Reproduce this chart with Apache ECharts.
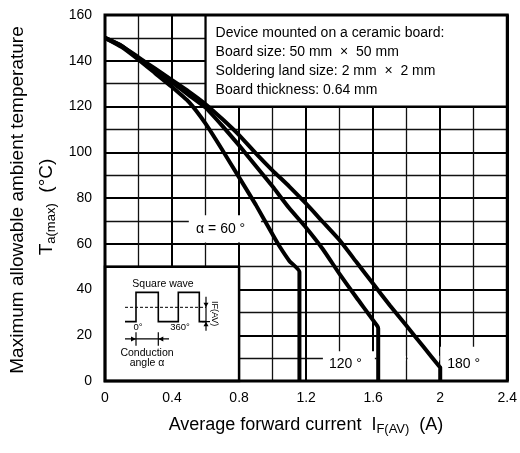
<!DOCTYPE html>
<html><head><meta charset="utf-8">
<script src="https://cdn.jsdelivr.net/npm/echarts@6/dist/echarts.min.js"></script>
<style>html,body{margin:0;padding:0;background:#fff}#c{width:520px;height:453px}</style>
</head><body><div id="c"></div>
<script>
const xTickLabels = ['0', '0.4', '0.8', '1.2', '1.6', '2', '2.4'];
const yTickLabels = ['0', '20', '40', '60', '80', '100', '120', '140', '160'];

const x60 = [0, 0.1, 0.2, 0.3, 0.4, 0.5, 0.6, 0.7, 0.8, 0.9, 1.0, 1.04, 1.1, 1.16, 1.16];
const y60 = [150, 146, 140.5, 134.5, 128.5, 122, 112.5, 101, 89, 77, 64, 59, 52.5, 47.8, 0];

const x120 = [0, 0.1, 0.2, 0.3, 0.4, 0.5, 0.6, 0.7, 0.8, 0.9, 1.0, 1.1, 1.2, 1.3, 1.4, 1.5, 1.625, 1.63, 1.63];
const y120 = [150, 146.5, 141, 136, 130.5, 125, 119.5, 111.5, 103, 94, 85, 75.5, 67, 57.6, 46.7, 36.5, 24, 23, 0];

const x180 = [0, 0.1, 0.2, 0.3, 0.4, 0.5, 0.6, 0.7, 0.8, 0.9, 1.0, 1.1, 1.2, 1.3, 1.4, 1.5, 1.6, 1.7, 1.8, 1.9, 1.995, 2.0, 2.0];
const y180 = [150, 146.5, 141.5, 136.5, 131.5, 126.5, 121, 114.5, 107.5, 99.5, 92, 85, 77.5, 69.5, 61.5, 52, 42.5, 33, 24, 15, 6.3, 6, 0];

const curveLabels = ['α = 60 °', '120 °', '180 °'];
const noteLines = ['Device mounted on a ceramic board:', 'Board size: 50 mm  ×  50 mm', 'Soldering land size: 2 mm  ×  2 mm', 'Board thickness: 0.64 mm'];

const FONT = "'Liberation Sans', Arial, sans-serif";
const zip = (xs, ys) => xs.map((x, i) => [x, ys[i]]);

const chart = echarts.init(document.getElementById('c'), null, {renderer: 'canvas'});

const curveStyle = {color: '#000', width: 4, join: 'round'};
function curve(name, data) {
  return {name, type: 'line', data, symbol: 'none', smooth: 0.15, z: 3, lineStyle: curveStyle, silent: true, animation: false};
}
const white = {color: '#fff', borderWidth: 0};

chart.setOption({
  animation: false,
  backgroundColor: '#fff',
  grid: {left: 105, right: 10, top: 15, bottom: 72, show: false},
  xAxis: {
    type: 'value', min: 0, max: 2.4, interval: 0.4,
    axisLine: {show: false}, axisTick: {show: false},
    axisLabel: {margin: 10, fontSize: 14, color: '#000', fontFamily: FONT,
      formatter: v => xTickLabels[Math.round(v / 0.4)]},
    splitLine: {show: true, lineStyle: {color: '#000', width: 2}},
    minorTick: {show: false, splitNumber: 2},
    minorSplitLine: {show: true, lineStyle: {color: '#111', width: 1.3}}
  },
  yAxis: {
    type: 'value', min: 0, max: 160, interval: 20,
    axisLine: {show: false}, axisTick: {show: false},
    axisLabel: {margin: 13, fontSize: 14, color: '#000', fontFamily: FONT,
      formatter: v => yTickLabels[Math.round(v / 20)]},
    splitLine: {show: true, lineStyle: {color: '#000', width: 2}},
    minorTick: {show: false, splitNumber: 2},
    minorSplitLine: {show: true, lineStyle: {color: '#111', width: 1.3}}
  },
  series: [
    {
      type: 'line', data: [], z: 2, silent: true,
      markArea: {
        silent: true,
        label: {show: false},
        data: [
          [{coord: [0.6, 120], itemStyle: {color: '#fff', borderColor: '#000', borderWidth: 2.2}}, {coord: [2.4, 160]}],
          [{coord: [0, 0], itemStyle: {color: '#fff', borderColor: '#000', borderWidth: 2.5}}, {coord: [0.8, 50]}],
          [{coord: [0.5, 60.5], itemStyle: white}, {coord: [0.93, 72.5]}],
          [{coord: [1.3, 0], itemStyle: white}, {coord: [1.61, 13]}],
          [{coord: [1.62, 9], itemStyle: white}, {coord: [1.795, 11]}],
          [{coord: [1.805, 9], itemStyle: white}, {coord: [1.995, 11]}],
          [{coord: [2.0, 0], itemStyle: white}, {coord: [2.4, 15]}]
        ]
      },
      markPoint: {
        silent: true, symbol: 'rect', symbolSize: 1, itemStyle: {color: 'rgba(0,0,0,0)'},
        label: {show: true, color: '#000', fontSize: 14, fontFamily: FONT},
        data: [
          {coord: [0.69, 66.4], label: {formatter: curveLabels[0]}},
          {coord: [1.434, 7.4], label: {formatter: curveLabels[1]}},
          {coord: [2.14, 7.4], label: {formatter: curveLabels[2]}}
        ]
      }
    },
    curve('60', zip(x60, y60)),
    curve('120', zip(x120, y120)),
    curve('180', zip(x180, y180)),
    {
      type: 'line', data: [], z: 5, silent: true,
      markArea: {silent: true, label: {show: false},
        data: [[{coord: [0, 0], itemStyle: {color: 'rgba(0,0,0,0)', borderColor: '#000', borderWidth: 3}}, {coord: [2.4, 160]}]]}
    }
  ]
});

// decorations positioned from the axes
const p0 = chart.convertToPixel({gridIndex: 0}, [0, 50]);   // square-wave box top-left
const pb = chart.convertToPixel({gridIndex: 0}, [0.6, 160]); // note box top-left
const pc = chart.convertToPixel({gridIndex: 0}, [1.2, 0]);
const ox = p0[0], oy = p0[1];
const P = (a, b) => [ox + a, oy + b];
const ln = {stroke: '#000', lineWidth: 1.2};
const g = [];
g.push({type: 'text', x: ox + 58, y: oy + 17.5, style: {text: 'Square wave', fontSize: 10.5, fontFamily: FONT, fill: '#000', align: 'center', verticalAlign: 'middle'}});
g.push({type: 'polyline', shape: {points: [P(20,55),P(31,55),P(31,25.7),P(53.3,25.7),P(53.3,55),P(73.3,55),P(73.3,25.7),P(94.3,25.7),P(94.3,55),P(101,55)]}, style: {stroke: '#000', lineWidth: 1.6, fill: null}});
g.push({type: 'line', shape: {x1: ox + 20, y1: oy + 40.7, x2: ox + 101, y2: oy + 40.7}, style: {stroke: '#000', lineWidth: 1, lineDash: [3, 2]}});
g.push({type: 'line', shape: {x1: ox + 101, y1: oy + 30, x2: ox + 101, y2: oy + 64}, style: ln});
g.push({type: 'polygon', shape: {points: [P(101,40.7),P(98.5,36),P(103.5,36)]}, style: {fill: '#000'}});
g.push({type: 'polygon', shape: {points: [P(101,55),P(98.5,59.7),P(103.5,59.7)]}, style: {fill: '#000'}});
g.push({type: 'line', shape: {x1: ox + 97, y1: oy + 55, x2: ox + 105, y2: oy + 55}, style: ln});
g.push({type: 'text', x: ox + 109, y: oy + 47, rotation: -Math.PI / 2, style: {text: 'IF(AV)', fontSize: 9, fontFamily: FONT, fill: '#000', align: 'center', verticalAlign: 'middle'}});
g.push({type: 'text', x: ox + 33, y: oy + 61, style: {text: '0°', fontSize: 9.5, fontFamily: FONT, fill: '#000', align: 'center', verticalAlign: 'middle'}});
g.push({type: 'text', x: ox + 75, y: oy + 61, style: {text: '360°', fontSize: 9.5, fontFamily: FONT, fill: '#000', align: 'center', verticalAlign: 'middle'}});
g.push({type: 'line', shape: {x1: ox + 31, y1: oy + 65.5, x2: ox + 31, y2: oy + 79}, style: ln});
g.push({type: 'line', shape: {x1: ox + 53.3, y1: oy + 65.5, x2: ox + 53.3, y2: oy + 79}, style: ln});
g.push({type: 'line', shape: {x1: ox + 20, y1: oy + 72.3, x2: ox + 64, y2: oy + 72.3}, style: ln});
g.push({type: 'polygon', shape: {points: [P(31,72.3),P(26,69.8),P(26,74.8)]}, style: {fill: '#000'}});
g.push({type: 'polygon', shape: {points: [P(53.3,72.3),P(58.3,69.8),P(58.3,74.8)]}, style: {fill: '#000'}});
g.push({type: 'text', x: ox + 42, y: oy + 86, style: {text: 'Conduction', fontSize: 10.5, fontFamily: FONT, fill: '#000', align: 'center', verticalAlign: 'middle'}});
g.push({type: 'text', x: ox + 42, y: oy + 96.5, style: {text: 'angle α', fontSize: 10.5, fontFamily: FONT, fill: '#000', align: 'center', verticalAlign: 'middle'}});
// note box text
g.push({type: 'text', x: pb[0] + 10, y: pb[1] + 9, style: {text: noteLines.join('\n'), fontSize: 14, lineHeight: 19, fontFamily: FONT, fill: '#000', align: 'left', verticalAlign: 'top'}});
// axis titles
g.push({type: 'text', x: 306, y: pc[1] + 44, style: {text: '{n|Average forward current  I}{s|F(AV)}{n|  (A)}', fontFamily: FONT, fill: '#000', align: 'center', verticalAlign: 'middle',
  rich: {n: {fontSize: 18, fontFamily: FONT, fill: '#000'}, s: {fontSize: 13, fontFamily: FONT, fill: '#000', padding: [9, 0, 0, 0]}}}});
g.push({type: 'text', x: 18, y: 200, rotation: Math.PI / 2, style: {text: 'Maximum allowable ambient temperature', fontSize: 19, fontFamily: FONT, fill: '#000', align: 'center', verticalAlign: 'middle'}});
g.push({type: 'text', x: 47, y: 207, rotation: Math.PI / 2, style: {text: '{n|T}{s|a(max)}{n|  (°C)}', fontFamily: FONT, fill: '#000', align: 'center', verticalAlign: 'middle',
  rich: {n: {fontSize: 19, fontFamily: FONT, fill: '#000'}, s: {fontSize: 13, fontFamily: FONT, fill: '#000', padding: [9, 0, 0, 0]}}}});
chart.setOption({graphic: g.map(e => Object.assign({silent: true, z: 10}, e))});
</script></body></html>
